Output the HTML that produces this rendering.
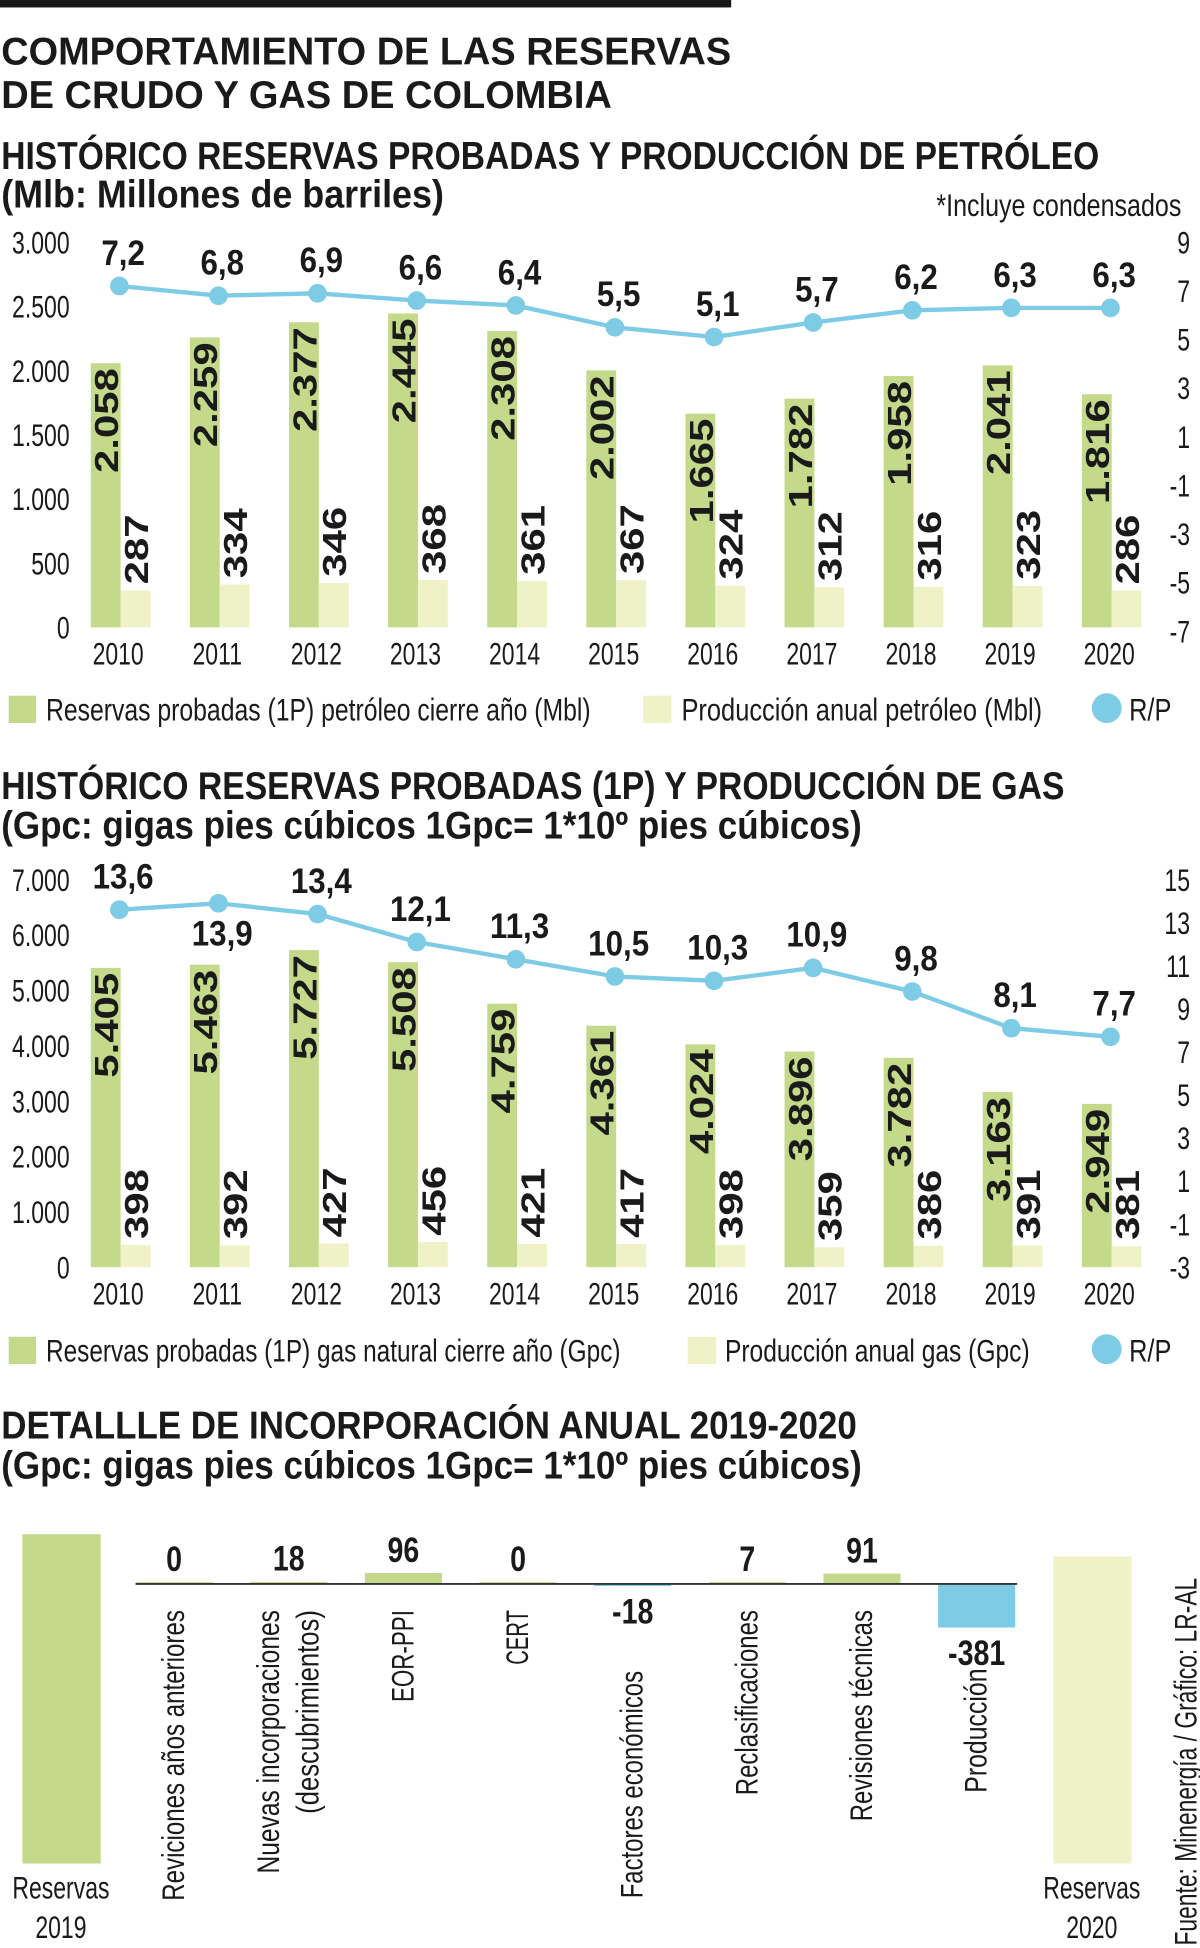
<!DOCTYPE html>
<html><head><meta charset="utf-8">
<style>
html,body{margin:0;padding:0;background:#fff;}
svg{display:block;}
text{font-family:"Liberation Sans Narrow","Liberation Sans",sans-serif;fill:#1a1a1a;}
.h{font-weight:bold;font-size:31px;}
.c{font-size:25px;}
.b{font-weight:bold;font-size:27px;font-family:"Liberation Sans",sans-serif;}
.rp{font-weight:bold;font-size:28px;font-family:"Liberation Sans",sans-serif;}
</style></head>
<body>
<svg id="page" width="1200" height="1948" viewBox="0 0 965 1568" preserveAspectRatio="none" xmlns="http://www.w3.org/2000/svg">
<rect x="0" y="0" width="588" height="6" fill="#1a1a1a"/>
<text class="h" x="1" y="52" textLength="587" lengthAdjust="spacingAndGlyphs">COMPORTAMIENTO DE LAS RESERVAS</text>
<text class="h" x="1" y="87" textLength="491" lengthAdjust="spacingAndGlyphs">DE CRUDO Y GAS DE COLOMBIA</text>
<text class="h" x="1" y="136" textLength="883" lengthAdjust="spacingAndGlyphs">HISTÓRICO RESERVAS PROBADAS Y PRODUCCIÓN DE PETRÓLEO</text>
<text class="h" x="1" y="167" textLength="356" lengthAdjust="spacingAndGlyphs">(Mlb: Millones de barriles)</text>
<text class="c" x="950" y="174" text-anchor="end" textLength="197" lengthAdjust="spacingAndGlyphs">*Incluye condensados</text>
<g id="oil"></g>
<g id="oil-legend">
<rect x="7" y="560" width="22" height="22" fill="#c5d98a"/>
<text class="c" x="37" y="580" textLength="438" lengthAdjust="spacingAndGlyphs">Reservas probadas (1P) petróleo cierre año (Mbl)</text>
<rect x="517" y="560" width="23" height="22" fill="#eef2c6"/>
<text class="c" x="548" y="580" textLength="290" lengthAdjust="spacingAndGlyphs">Producción anual petróleo (Mbl)</text>
<ellipse cx="890" cy="570" rx="12" ry="12" fill="#7ecbe5"/>
<text class="c" x="908" y="580" textLength="34" lengthAdjust="spacingAndGlyphs">R/P</text>
</g>
<text class="h" x="1" y="643" textLength="855" lengthAdjust="spacingAndGlyphs">HISTÓRICO RESERVAS PROBADAS (1P) Y PRODUCCIÓN DE GAS</text>
<text class="h" x="1" y="675" textLength="692" lengthAdjust="spacingAndGlyphs">(Gpc: gigas pies cúbicos 1Gpc= 1*10º pies cúbicos)</text>
<g id="gas"></g>
<g id="gas-legend">
<rect x="7" y="1076" width="22" height="22" fill="#c5d98a"/>
<text class="c" x="37" y="1096" textLength="462" lengthAdjust="spacingAndGlyphs">Reservas probadas (1P) gas natural cierre año (Gpc)</text>
<rect x="553" y="1076" width="23" height="22" fill="#eef2c6"/>
<text class="c" x="583" y="1096" textLength="245" lengthAdjust="spacingAndGlyphs">Producción anual gas (Gpc)</text>
<ellipse cx="890" cy="1086" rx="12" ry="12" fill="#7ecbe5"/>
<text class="c" x="908" y="1096" textLength="34" lengthAdjust="spacingAndGlyphs">R/P</text>
</g>
<text class="h" x="1" y="1158" textLength="688" lengthAdjust="spacingAndGlyphs">DETALLLE DE INCORPORACIÓN ANUAL 2019-2020</text>
<text class="h" x="1" y="1190" textLength="692" lengthAdjust="spacingAndGlyphs">(Gpc: gigas pies cúbicos 1Gpc= 1*10º pies cúbicos)</text>
<g id="wf"></g>
<text class="c" font-size="21" transform="translate(962,1566) rotate(-90)" textLength="296" lengthAdjust="spacingAndGlyphs">Fuente: Minenergía / Gráfico: LR-AL</text>
</svg>
<script>
const years=['2010','2011','2012','2013','2014','2015','2016','2017','2018','2019','2020'];
const oilReserves=[2058,2259,2377,2445,2308,2002,1665,1782,1958,2041,1816];
const oilProduction=[287,334,346,368,361,367,324,312,316,323,286];
const oilRP=[7.2,6.8,6.9,6.6,6.4,5.5,5.1,5.7,6.2,6.3,6.3];
const oilLeftTicks=[3000,2500,2000,1500,1000,500,0];
const oilRightTicks=[9,7,5,3,1,-1,-3,-5,-7];
const gasReserves=[5405,5463,5727,5508,4759,4361,4024,3896,3782,3163,2949];
const gasProduction=[398,392,427,456,421,417,398,359,386,391,381];
const gasRP=[13.6,13.9,13.4,12.1,11.3,10.5,10.3,10.9,9.8,8.1,7.7];
const gasRPBelow=[false,true,false,false,false,false,false,false,false,false,false];
const gasLeftTicks=[7000,6000,5000,4000,3000,2000,1000,0];
const gasRightTicks=[15,13,11,9,7,5,3,1,-1,-3];
const wfCategories=[['Reviciones años anteriores'],['Nuevas incorporaciones','(descubrimientos)'],['EOR-PPI'],['CERT'],['Factores económicos'],['Reclasificaciones'],['Revisiones técnicas'],['Producción']];
const wfValues=[0,18,96,0,-18,7,91,-381];
const wfReserves=[3163,2949];
const wfReserveLabels=['2019','2020'];

const NS='http://www.w3.org/2000/svg';
function mk(p,tag,attrs){const e=document.createElementNS(NS,tag);for(const k in attrs)e.setAttribute(k,attrs[k]);p.appendChild(e);return e;}
function fmtK(v){const s=String(Math.abs(v));let o=s.length>3?s.slice(0,s.length-3)+'.'+s.slice(-3):s;return (v<0?'-':'')+o;}
function fmtD(v){return v.toFixed(1).replace('.',',');}
function fit(el,f){const w=el.getComputedTextLength();el.setAttribute('textLength',(w*f).toFixed(1));el.setAttribute('lengthAdjust','spacingAndGlyphs');}

function drawChart(gid,res,prod,rp,below,lt,rt,yTop,yBot,rTopY,rBotY,prefix){
  const g=document.getElementById(gid);
  const lMax=lt[0], rMax=rt[0], rMin=rt[rt.length-1];
  const y=v=>yBot-v/lMax*(yBot-yTop);
  const yr=v=>rTopY+(rMax-v)/(rMax-rMin)*(rBotY-rTopY);
  const xc=i=>97+i*79.7;
  lt.forEach(t=>{
    const e=mk(g,'text',{class:'c',x:56,y:y(t)+9,'text-anchor':'end'});
    
    
    e.textContent=fmtK(t);fit(e,0.74);
  });
  rt.forEach(t=>{
    const e=mk(g,'text',{class:'c',x:957,y:yr(t)+9,'text-anchor':'end'});
    
    
    e.textContent=String(t);fit(e,0.74);
  });
  years.forEach((yy,i)=>{
    const c=xc(i);
    const b1=mk(g,'rect',{x:c-24,y:y(res[i]),width:24,height:yBot-y(res[i]),fill:'#c5d98a'});
    
    
    const b2=mk(g,'rect',{x:c,y:y(prod[i]),width:24,height:yBot-y(prod[i]),fill:'#eef2c6'});
    
    
    const t1=mk(g,'text',{class:'b','text-anchor':'end',transform:`translate(${c-2},${y(res[i])+4}) rotate(-90)`});
    
    
    t1.textContent=fmtK(res[i]);fit(t1,1.25);
    const t2=mk(g,'text',{class:'b','text-anchor':'start',transform:`translate(${c+22},${y(prod[i])-5}) rotate(-90)`});
    
    
    t2.textContent=fmtK(prod[i]);fit(t2,1.25);
    const yl=mk(g,'text',{class:'c',x:c-2,y:yBot+30,'text-anchor':'middle'});
    
    
    yl.textContent=yy;fit(yl,0.74);
  });
  const pts=rp.map((v,i)=>(xc(i)-1)+','+yr(v)).join(' ');
  const ln=mk(g,'polyline',{points:pts,fill:'none',stroke:'#7ecbe5','stroke-width':3.5});
  
  
  rp.forEach((v,i)=>{
    const d=mk(g,'circle',{cx:xc(i)-1,cy:yr(v),r:7.5,fill:'#7ecbe5'});
    
    
    const bl=below&&below[i];
    const t=mk(g,'text',{class:'rp',x:xc(i)+2,y:bl?yr(v)+34:yr(v)-17,'text-anchor':'middle'});
    
    
    t.textContent=fmtD(v);fit(t,0.9);
  });
}
drawChart('oil',oilReserves,oilProduction,oilRP,null,oilLeftTicks,oilRightTicks,195,505,195,508,'oil');
drawChart('gas',gasReserves,gasProduction,gasRP,gasRPBelow,gasLeftTicks,gasRightTicks,708,1020,708,1020,'gas');

(function(){
  const g=document.getElementById('wf');
  const base=1275, bot=1500, rs=0.0838, vs=0.092;
  const xs=i=>109+i*92.2;
  const rx=[18,847], rc=['#c5d98a','#eef2c6'];
  wfReserves.forEach((v,i)=>{
    const r=mk(g,'rect',{x:rx[i],y:bot-v*rs,width:63,height:v*rs,fill:rc[i]});
    
    
    const t=mk(g,'text',{class:'c',x:rx[i]+31,y:1528,'text-anchor':'middle'});
    
    
    t.textContent='Reservas';fit(t,0.74);
    const t2=mk(g,'text',{class:'c',x:rx[i]+31,y:1560,'text-anchor':'middle'});
    
    
    t2.textContent=wfReserveLabels[i];fit(t2,0.74);
  });
  const lens=[[234],[212,164],[74],[44],[183],[149],[170],[100]];
  wfValues.forEach((v,i)=>{
    const x=xs(i), c=x+31;
    const h=Math.max(Math.abs(v)*vs,1.5);
    const top=v>=0?base-h:base;
    const r=mk(g,'rect',{x:x,y:top,width:62,height:h,fill:v>=0?'#c5d98a':'#7ecbe5'});
    
    
    const t=mk(g,'text',{class:'rp',x:c,y:v>=0?top-9:base+h+30,'text-anchor':'middle'});
    
    
    t.textContent=String(v);fit(t,0.82);
    const lines=wfCategories[i];
    lines.forEach((s,j)=>{
      const bx=lines.length>1?c-16+j*32+8:c+8;
      let yb;
      if(i===4)yb=1528;else if(i===7)yb=1443;else yb=1296+lens[i][j];
      const e=mk(g,'text',{class:'c','font-size':'23',transform:`translate(${bx},${yb}) rotate(-90)`,textLength:lens[i][j],lengthAdjust:'spacingAndGlyphs'});
      
      
      e.textContent=s;
    });
  });
  const ax=mk(g,'line',{x1:109,y1:base,x2:818,y2:base,stroke:'#333','stroke-width':1.5});
  
  
})();
</script>
</body></html>
